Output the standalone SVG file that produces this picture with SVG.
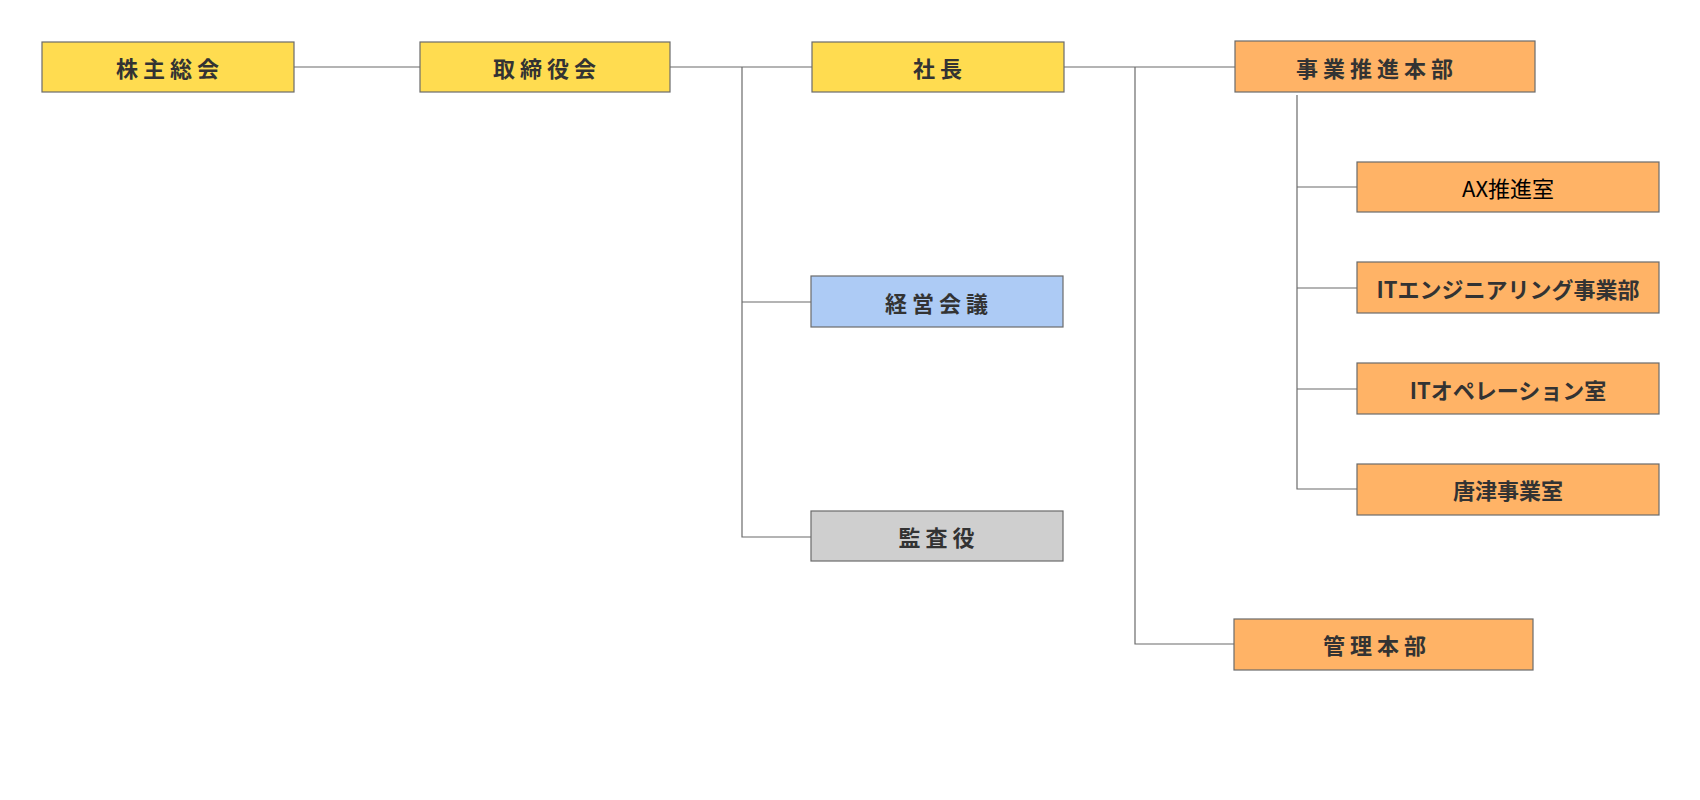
<svg xmlns="http://www.w3.org/2000/svg" width="1700" height="800" viewBox="0 0 1700 800">
<style>
rect{stroke:#6b6b6b;stroke-width:1.2}
.y{fill:#FFDC50}.o{fill:#FFB366}.b{fill:#ADCBF5}.g{fill:#CFCFCF}
text{font-family:"Noto Sans CJK JP","Noto Sans",sans-serif;font-size:22px;font-weight:bold;fill:#333;text-anchor:middle;dominant-baseline:central}
.sp{letter-spacing:5px}
.n{font-weight:normal;fill:#000}
#connectors path{stroke:#6b6b6b;stroke-width:1.2;fill:none}
</style>
<rect width="1700" height="800" fill="#fff" style="stroke:none"/>
<g id="connectors">
<path d="M294 67H420M670 67H812M742 67V537H811M742 302H811M1064 67H1235M1135 67V644H1234M1297 95V489H1357M1297 187H1357M1297 288H1357M1297 389H1357"/>
</g>
<g id="n1"><rect class="y" x="42" y="42" width="252" height="50"/><text class="sp" x="170" y="67">株主総会</text></g>
<g id="n2"><rect class="y" x="420" y="42" width="250" height="50"/><text class="sp" x="547" y="67">取締役会</text></g>
<g id="n3"><rect class="y" x="812" y="42" width="252" height="50"/><text class="sp" x="940" y="67">社長</text></g>
<g id="n4"><rect class="o" x="1235" y="41" width="300" height="51"/><text class="sp" x="1377" y="67">事業推進本部</text></g>
<g id="n5"><rect class="o" x="1357" y="162" width="302" height="50"/><text class="n" x="1508" y="187">AX推進室</text></g>
<g id="n6"><rect class="o" x="1357" y="262" width="302" height="51"/><text x="1508" y="288">ITエンジニアリング事業部</text></g>
<g id="n7"><rect class="o" x="1357" y="363" width="302" height="51"/><text x="1508" y="389">ITオペレーション室</text></g>
<g id="n8"><rect class="o" x="1357" y="464" width="302" height="51"/><text x="1508" y="489">唐津事業室</text></g>
<g id="n9"><rect class="b" x="811" y="276" width="252" height="51"/><text class="sp" x="939" y="302">経営会議</text></g>
<g id="n10"><rect class="g" x="811" y="511" width="252" height="50"/><text class="sp" x="939" y="536">監査役</text></g>
<g id="n11"><rect class="o" x="1234" y="619" width="299" height="51"/><text class="sp" x="1377" y="644">管理本部</text></g>
</svg>
